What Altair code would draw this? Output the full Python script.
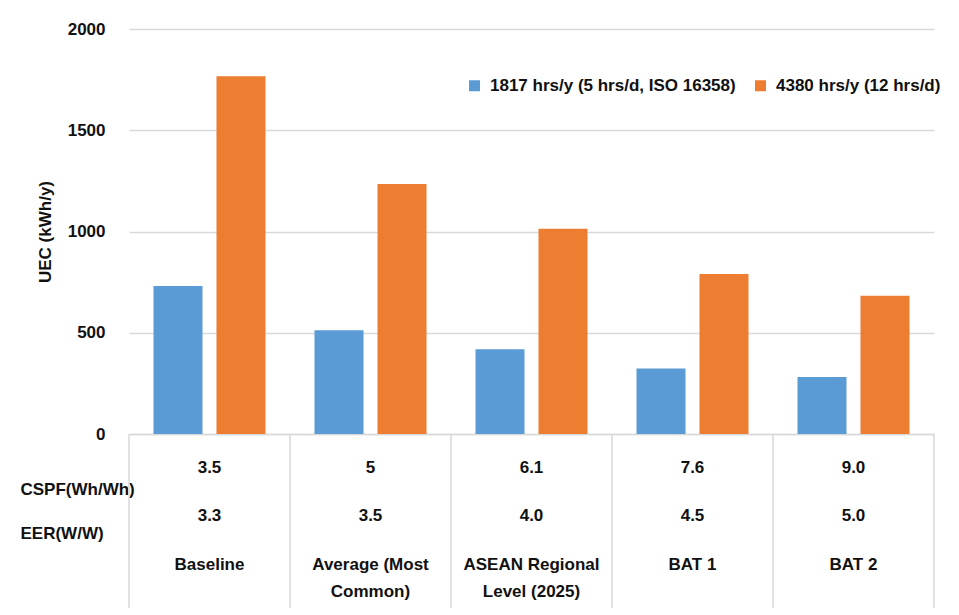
import altair as alt
import pandas as pd

# ---- data ----
cats = ["Baseline", "Average (Most\nCommon)", "ASEAN Regional\nLevel (2025)", "BAT 1", "BAT 2"]
series = ["1817 hrs/y (5 hrs/d, ISO 16358)", "4380 hrs/y (12 hrs/d)"]
uec_1817 = [731, 512, 418, 324, 282]
uec_4380 = [1767, 1234, 1014, 790, 683]
cspf = ["3.5", "5", "6.1", "7.6", "9.0"]
eer = ["3.3", "3.5", "4.0", "4.5", "5.0"]
row_names = ["CSPF(Wh/Wh)", "EER(W/W)", "name"]
y_ticks = [0, 500, 1000, 1500, 2000]

bars_df = pd.DataFrame({
    "cat": cats * 2,
    "series": [series[0]] * len(cats) + [series[1]] * len(cats),
    "uec": uec_1817 + uec_4380,
})
table_df = pd.DataFrame({"cat": cats, "cspf": cspf, "eer": eer})

FONT = "Liberation Sans, Arial, sans-serif"
FS = 17
GRID = "#d9d9d9"
TXT = "#111111"

x_scale = alt.Scale(domain=cats, paddingInner=0, paddingOuter=0)

bars = alt.Chart(bars_df).mark_bar().encode(
    x=alt.X("cat:N", scale=x_scale, sort=cats,
            axis=alt.Axis(labels=False, ticks=False, title=None, grid=False,
                          domainColor=GRID, domainWidth=1.5)),
    xOffset=alt.XOffset("series:N", sort=series,
                        scale=alt.Scale(domain=series, paddingInner=0.222, paddingOuter=0.389)),
    y=alt.Y("uec:Q", scale=alt.Scale(domain=[0, 2000]),
            axis=alt.Axis(values=y_ticks, format="d", title="UEC (kWh/y)", ticks=False,
                          domain=False, gridColor=GRID, gridWidth=1.5, labelPadding=24,
                          titlePadding=13, labelFontSize=FS, titleFontSize=FS)),
    color=alt.Color("series:N", sort=series,
                    scale=alt.Scale(domain=series, range=["#5B9BD5", "#ED7D31"]),
                    legend=alt.Legend(title=None, orient="none", legendX=337, legendY=48,
                                      direction="horizontal", symbolType="square",
                                      symbolSize=121, labelFontSize=FS, columnPadding=16,
                                      labelOffset=7, symbolStrokeWidth=0, labelLimit=400)),
).properties(width=805, height=405)

y_scale = alt.Scale(type="band", domain=row_names, paddingInner=0, paddingOuter=0.477, align=0.81)
y_axis = alt.Axis(title=None, domain=False, ticks=False, grid=False, labelAlign="left",
                  labelPadding=109, labelFontSize=FS,
                  labelExpr="datum.value == 'name' ? '' : datum.value")

x_tab = alt.X("cat:N", scale=x_scale, sort=cats, axis=None)

rules_left = alt.Chart(table_df).mark_rule(color=GRID, strokeWidth=1.5).encode(
    x=alt.X("cat:N", scale=x_scale, sort=cats, axis=None, bandPosition=0))
rule_right = alt.Chart(table_df).transform_filter(
    alt.datum.cat == cats[-1]).mark_rule(color=GRID, strokeWidth=1.5).encode(
    x=alt.X("cat:N", scale=x_scale, sort=cats, axis=None, bandPosition=1))

cspf_text = alt.Chart(table_df).transform_calculate(row=f"'{row_names[0]}'").mark_text(
    dy=-22, fontSize=FS, fontWeight="bold", color=TXT).encode(
    x=x_tab, y=alt.Y("row:N", scale=y_scale, axis=y_axis), text="cspf:N")
eer_text = alt.Chart(table_df).transform_calculate(row=f"'{row_names[1]}'").mark_text(
    dy=-18, fontSize=FS, fontWeight="bold", color=TXT).encode(
    x=x_tab, y=alt.Y("row:N", scale=y_scale, axis=y_axis), text="eer:N")
name_text = alt.Chart(table_df).transform_calculate(row=f"'{row_names[2]}'").mark_text(
    dy=-13, fontSize=FS, fontWeight="bold", color=TXT, lineBreak="\n", lineHeight=27).encode(
    x=x_tab, y=alt.Y("row:N", scale=y_scale, axis=y_axis), text="cat:N")

table = alt.layer(rules_left, rule_right, cspf_text, eer_text, name_text).properties(
    width=805, height=174)

chart = alt.vconcat(bars, table, spacing=0, bounds="flush").properties(
    padding={"left": 12, "top": 12, "right": 5, "bottom": 2}
).configure(font=FONT).configure_view(stroke=None).configure_axis(
    labelFontWeight="bold", titleFontWeight="bold", labelColor=TXT, titleColor=TXT
).configure_legend(labelFontWeight="bold", labelColor=TXT)

chart.save("out.html", embed_options={"renderer": "svg", "actions": False})
